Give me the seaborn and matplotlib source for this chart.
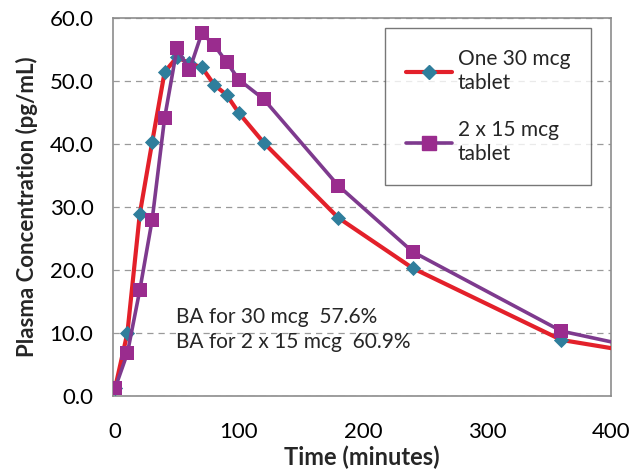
import matplotlib
matplotlib.use("Agg")
import matplotlib.pyplot as plt
from matplotlib.lines import Line2D
from matplotlib.ticker import MultipleLocator, FormatStrFormatter
import seaborn as sns
import pandas as pd

# ---- data ----
time_min = [0, 10, 20, 30, 40, 50, 60, 70, 80, 90, 100, 120, 180, 240, 360]
one_30mcg = [1.2, 10.0, 28.9, 40.3, 51.4, 53.8, 52.8, 52.2, 49.4, 47.8, 44.9, 40.2, 28.3, 20.3, 8.9]
two_15mcg = [1.2, 6.8, 16.8, 28.0, 44.1, 55.2, 51.7, 57.6, 55.7, 53.0, 50.2, 47.1, 33.4, 22.9, 10.3]
# line continuation to the axis end (no marker)
tail_time = [400]
one_30mcg_tail = [7.6]
two_15mcg_tail = [8.6]

series_labels = ["One 30 mcg\ntablet", "2 x 15 mcg\ntablet"]
annotation_lines = ["BA for 30 mcg  57.6%", "BA for 2 x 15 mcg  60.9%"]
x_label = "Time (minutes)"
y_label = "Plasma Concentration (pg/mL)"

sns.set_style("white")
plt.rcParams["font.family"] = ["Lato", "DejaVu Sans"]

RED = "#E3202A"
TEAL = "#2F7E9C"
PURPLE_LINE = "#7E3A8E"
PURPLE_MARK = "#9A2C8E"

fig = plt.figure(figsize=(6.43, 4.74), dpi=100)
ax = fig.add_axes([113 / 643, 1 - 396 / 474, (611 - 113) / 643, (396 - 18) / 474])

line_red = pd.DataFrame({"t": time_min + tail_time, "c": one_30mcg + one_30mcg_tail})
line_pur = pd.DataFrame({"t": time_min + tail_time, "c": two_15mcg + two_15mcg_tail})
pts_red = pd.DataFrame({"t": time_min, "c": one_30mcg})
pts_pur = pd.DataFrame({"t": time_min, "c": two_15mcg})

sns.lineplot(data=line_red, x="t", y="c", ax=ax, color=RED, linewidth=3.0,
             sort=True, zorder=3)
sns.scatterplot(data=pts_red, x="t", y="c", ax=ax, marker="D", s=60,
                color=TEAL, edgecolor=TEAL, linewidth=0, zorder=4)
sns.lineplot(data=line_pur, x="t", y="c", ax=ax, color=PURPLE_LINE, linewidth=2.6,
             sort=True, zorder=5)
sns.scatterplot(data=pts_pur, x="t", y="c", ax=ax, marker="s", s=110,
                color=PURPLE_MARK, edgecolor=PURPLE_MARK, linewidth=0, zorder=6)

ax.set_xlim(-1.6, 400)
ax.set_ylim(0, 60)
ax.xaxis.set_major_locator(MultipleLocator(100))
ax.xaxis.set_minor_locator(MultipleLocator(20))
ax.yaxis.set_major_locator(MultipleLocator(10))
ax.yaxis.set_minor_locator(MultipleLocator(5))
ax.yaxis.set_major_formatter(FormatStrFormatter("%.1f"))

ax.grid(axis="y", which="major", color="#9a9a9a", linestyle=(0, (5, 4)), linewidth=0.9)
ax.set_axisbelow(True)
for side in ["left", "bottom", "right", "top"]:
    ax.spines[side].set_visible(True)
    ax.spines[side].set_color("#8c8c8c")
    ax.spines[side].set_linewidth(1.2)

ax.tick_params(axis="both", which="major", direction="out", length=6, width=1,
               color="#8c8c8c", labelsize=16, labelcolor="black")
ax.tick_params(axis="both", which="minor", direction="out", length=4, width=1,
               color="#8c8c8c")
ax.tick_params(axis="y", which="major", pad=8)
ax.tick_params(axis="x", which="major", pad=13)

ax.set_xlabel(x_label, fontsize=17, fontweight="bold", labelpad=2)
ax.set_ylabel(y_label, fontsize=16, fontweight="bold", labelpad=8)

ax.text(49, 12.5, annotation_lines[0], fontsize=15, va="center", ha="left")
ax.text(49, 8.6, annotation_lines[1], fontsize=15, va="center", ha="left")

handles = [
    Line2D([0], [0], color=RED, linewidth=3.0, marker="D", markersize=7.5,
           markerfacecolor=TEAL, markeredgecolor=TEAL),
    Line2D([0], [0], color=PURPLE_LINE, linewidth=2.6, marker="s", markersize=10,
           markerfacecolor=PURPLE_MARK, markeredgecolor=PURPLE_MARK),
]
leg = ax.legend(handles, series_labels, loc="upper left",
                bbox_to_anchor=((385 - 113) / 498, 1 - (28 - 18) / 378),
                fontsize=15, frameon=True, fancybox=False, handlelength=2.2,
                handletextpad=0.3, labelspacing=1.3, borderpad=1.0,
                borderaxespad=0)
leg.get_frame().set_edgecolor("#555555")
leg.get_frame().set_linewidth(1.0)
for t in leg.get_texts():
    t.set_linespacing(1.25)

fig.savefig("out.png", dpi=100)
